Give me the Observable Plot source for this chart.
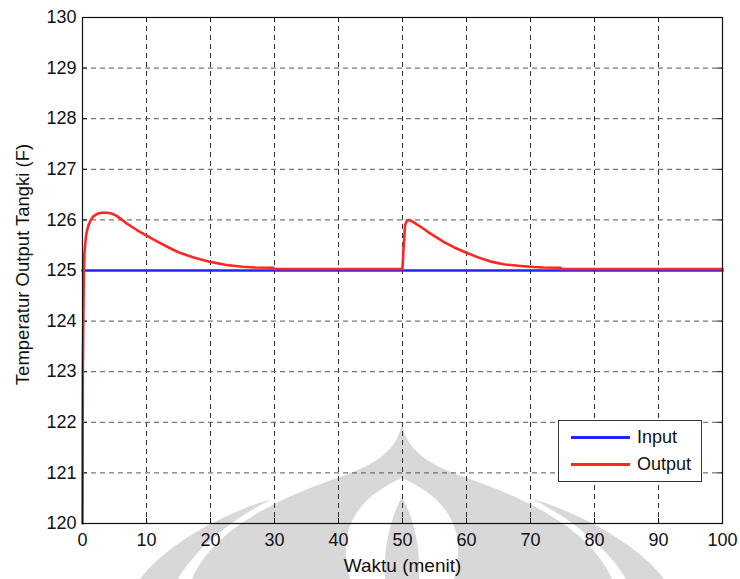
<!DOCTYPE html>
<html>
<head>
<meta charset="utf-8">
<script src="https://cdn.jsdelivr.net/npm/d3@7"></script>
<script src="https://cdn.jsdelivr.net/npm/@observablehq/plot@0.6"></script>
<style>
  html, body { margin: 0; padding: 0; background: #fff; }
  #wrap { position: relative; width: 740px; height: 579px; overflow: hidden; font-family: "Liberation Sans", Arial, Helvetica, sans-serif; }
  #wrap svg { position: absolute; left: 0; top: 0; }
  #legend { position: absolute; left: 558px; top: 420px; width: 144px; height: 62px; border: 1.3px solid #333; background: #fff; box-sizing: border-box; }
  #legend .row { position: absolute; left: 0; height: 22px; width: 100%; }
  #legend .swatch { position: absolute; left: 12px; width: 59px; height: 3px; top: 10px; }
  #legend .lbl { position: absolute; left: 78px; top: 0; font-size: 18px; line-height: 22px; color: #111; }
</style>
</head>
<body>
<div id="wrap">
  <!-- faint background emblem -->
  <svg id="emblem" width="740" height="579" viewBox="0 0 740 579">
    <g fill="#d8d8d8">
      <path d="M272,499 C225,512 165,545 140,579 L178,579 C195,550 230,520 272,499 Z"/>
      <path d="M532,499 C579,512 639,545 664,579 L626,579 C609,550 574,520 532,499 Z"/>
      <path d="M402,423 C398,450 375,465 340,477 C290,494 215,525 192,579 L612,579 C589,525 514,494 464,477 C429,465 406,450 402,423 Z"/>
    </g>
    <path fill="#fff" d="M402,478 C375,490 348,510 346,545 C345,560 348,572 350,579 L454,579 C456,572 459,560 458,545 C456,510 429,490 402,478 Z"/>
    <path fill="#d8d8d8" d="M402,497 C392,515 383,545 385,579 L419,579 C421,545 412,515 402,497 Z"/>
  </svg>
</div>
<script>
// Tank output temperature response (°F) versus time (minutes)
const xTicks = [0, 10, 20, 30, 40, 50, 60, 70, 80, 90, 100];
const yTicks = [120, 121, 122, 123, 124, 125, 126, 127, 128, 129, 130];

const xLabel = "Waktu (menit)";
const yLabel = "Temperatur Output Tangki (F)";
const seriesNames = ["Input", "Output"];
const seriesColors = ["#2323ff", "#ff2626"];

// Set point (input)
const inputTime = [0, 100];
const inputTemp = [125, 125];

// Measured tank output temperature
const outputTime = [
  0, 0.05, 0.2, 0.3, 0.45, 0.6, 0.9, 1.25, 1.7, 2.3, 3.0, 3.8, 4.4, 5.2, 6.0, 7.0,
  8.5, 10, 12, 14, 15, 17.5, 20, 22.5, 25, 27, 29.8, 29.9,
  49.9, 50.0, 50.15, 50.4, 50.7, 51.0, 51.5, 52, 53, 54, 55, 56.5, 58, 60, 62, 64,
  66, 68.5, 70.5, 72, 74.7, 74.8, 100
];
const outputTemp = [
  120, 123.0, 124.9, 125.33, 125.55, 125.73, 125.88, 125.99, 126.07, 126.12, 126.14, 126.14, 126.13, 126.09, 126.02, 125.92,
  125.80, 125.69, 125.55, 125.42, 125.36, 125.25, 125.17, 125.11, 125.075, 125.06, 125.055, 125.03,
  125.03, 125.05, 125.4, 125.9, 125.99, 126.0, 125.97, 125.93, 125.85, 125.76, 125.68, 125.56, 125.46, 125.35, 125.25, 125.17,
  125.12, 125.09, 125.07, 125.06, 125.055, 125.03, 125.03
];

const inputRows = inputTime.map((t, i) => ({t, v: inputTemp[i]}));
const outputRows = outputTime.map((t, i) => ({t, v: outputTemp[i]}));

const W = 740, H = 579;
const M = {top: 17, right: 18, bottom: 56, left: 82};
const plotW = W - M.left - M.right;
const plotH = H - M.top - M.bottom;
const tick = 5;
const ink = "#111";

const chart = Plot.plot({
  width: W,
  height: H,
  marginTop: M.top,
  marginRight: M.right,
  marginBottom: M.bottom,
  marginLeft: M.left,
  style: {fontFamily: '"Liberation Sans", Arial, Helvetica, sans-serif', fontSize: "18px", background: "transparent", color: ink},
  x: {domain: [0, 100]},
  y: {domain: [120, 130]},
  marks: [
    Plot.gridX(xTicks, {stroke: "#333", strokeOpacity: 1, strokeWidth: 1, strokeDasharray: "5,4"}),
    Plot.gridY(yTicks, {stroke: "#555", strokeOpacity: 1, strokeWidth: 1, strokeDasharray: "5,4"}),
    // inward tick marks on all four sides
    Plot.ruleX(xTicks, {x: d => d, insetTop: plotH - tick, stroke: ink}),
    Plot.ruleX(xTicks, {x: d => d, insetBottom: plotH - tick, stroke: ink}),
    Plot.ruleY(yTicks, {y: d => d, insetRight: plotW - tick, stroke: ink}),
    Plot.ruleY(yTicks, {y: d => d, insetLeft: plotW - tick, stroke: ink}),
    Plot.line(inputRows, {x: "t", y: "v", stroke: seriesColors[0], strokeWidth: 2.6}),
    Plot.line(outputRows, {x: "t", y: "v", stroke: seriesColors[1], strokeWidth: 2.6, strokeLinejoin: "round"}),
    Plot.frame({stroke: ink, strokeWidth: 1.2}),
    Plot.axisX(xTicks, {tickSize: 0, tickPadding: 10, label: null, fill: ink, fontSize: 18, tickFormat: d => String(d)}),
    Plot.axisY(yTicks, {tickSize: 0, tickPadding: 6, label: null, fill: ink, fontSize: 18, tickFormat: d => String(d)}),
    Plot.text([xLabel], {text: d => d, frameAnchor: "bottom", dy: 48, lineAnchor: "bottom", textAnchor: "middle", fontSize: 19, fill: ink}),
    Plot.text([yLabel], {text: d => d, frameAnchor: "left", dx: -59, dy: -6, rotate: -90, lineAnchor: "middle", textAnchor: "middle", fontSize: 18.5, fill: ink})
  ]
});

const wrap = document.getElementById("wrap");
wrap.appendChild(chart);

// legend box inside the axes, lower right
const legend = document.createElement("div");
legend.id = "legend";
seriesNames.forEach((name, i) => {
  const row = document.createElement("div");
  row.className = "row";
  row.style.top = (5 + i * 27) + "px";
  const sw = document.createElement("div");
  sw.className = "swatch";
  sw.style.background = seriesColors[i];
  const lbl = document.createElement("div");
  lbl.className = "lbl";
  lbl.textContent = name;
  row.appendChild(sw);
  row.appendChild(lbl);
  legend.appendChild(row);
});
wrap.appendChild(legend);
</script>
</body>
</html>
